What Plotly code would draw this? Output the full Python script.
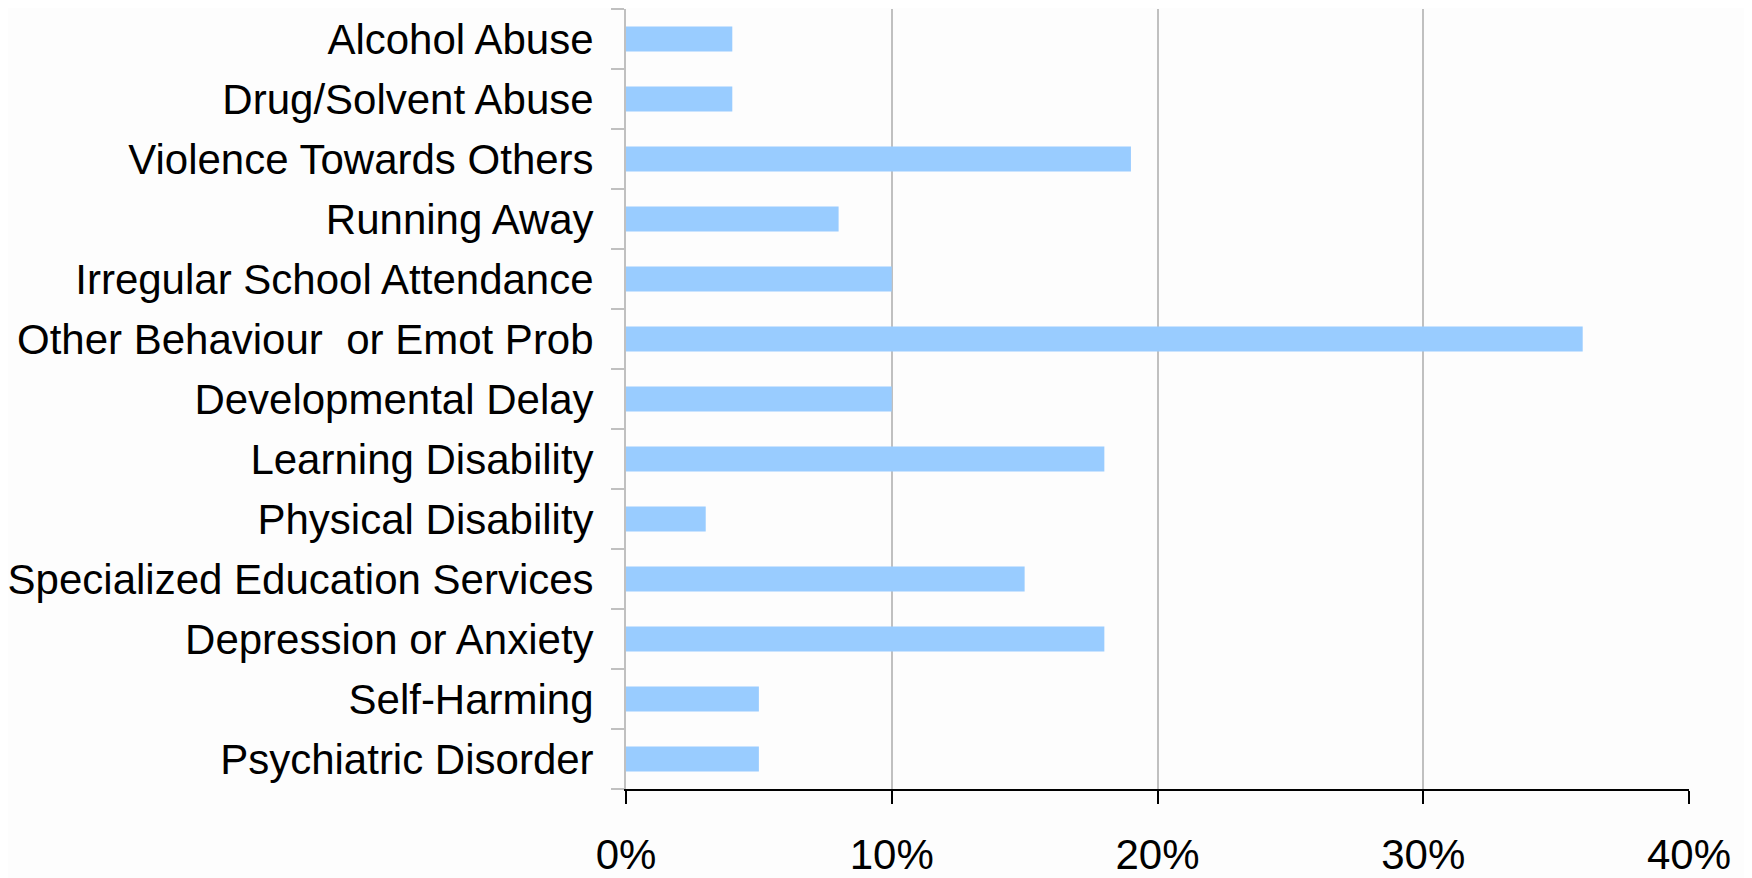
import plotly.graph_objects as go

categories = [
    "Alcohol Abuse",
    "Drug/Solvent Abuse",
    "Violence Towards Others",
    "Running Away",
    "Irregular School Attendance",
    "Other Behaviour\u00a0 or Emot Prob",
    "Developmental Delay",
    "Learning Disability",
    "Physical Disability",
    "Specialized Education Services",
    "Depression or Anxiety",
    "Self-Harming",
    "Psychiatric Disorder",
]
values = [4, 4, 19, 8, 10, 36, 10, 18, 3, 15, 18, 5, 5]
x_ticks = [0, 10, 20, 30, 40]
x_tick_labels = ["0%", "10%", "20%", "30%", "40%"]

fig = go.Figure(go.Bar(
    x=values, y=categories, orientation="h",
    marker=dict(color="#99CCFF", line=dict(width=0)),
))

font = "Liberation Sans, Arial, sans-serif"
fig.update_layout(
    width=1744, height=870,
    margin=dict(l=618, r=63, t=1, b=89),
    paper_bgcolor="#fdfdfd", plot_bgcolor="#fdfdfd",
    bargap=0.58,
    showlegend=False,
    font=dict(family=font, size=42, color="black"),
)
fig.update_xaxes(
    automargin=False,
    range=[0, 40], tickvals=x_ticks, ticktext=x_tick_labels,
    showgrid=True, gridcolor="#c0c0c0", gridwidth=2,
    showline=True, linecolor="black", linewidth=2,
    ticks="outside", ticklen=13, tickwidth=2, tickcolor="black",
    ticklabelstandoff=15,
    tickfont=dict(family=font, size=42, color="black"),
    zeroline=False,
)
fig.update_yaxes(
    automargin=False,
    categoryorder="array", categoryarray=categories[::-1],
    tickson="boundaries",
    showline=True, linecolor="#c0c0c0", linewidth=2,
    ticks="outside", ticklen=13, tickwidth=2, tickcolor="#c0c0c0",
    showgrid=False,
    ticklabelstandoff=22,
    tickfont=dict(family=font, size=42, color="black"),
)

fig.write_html("out.html")
